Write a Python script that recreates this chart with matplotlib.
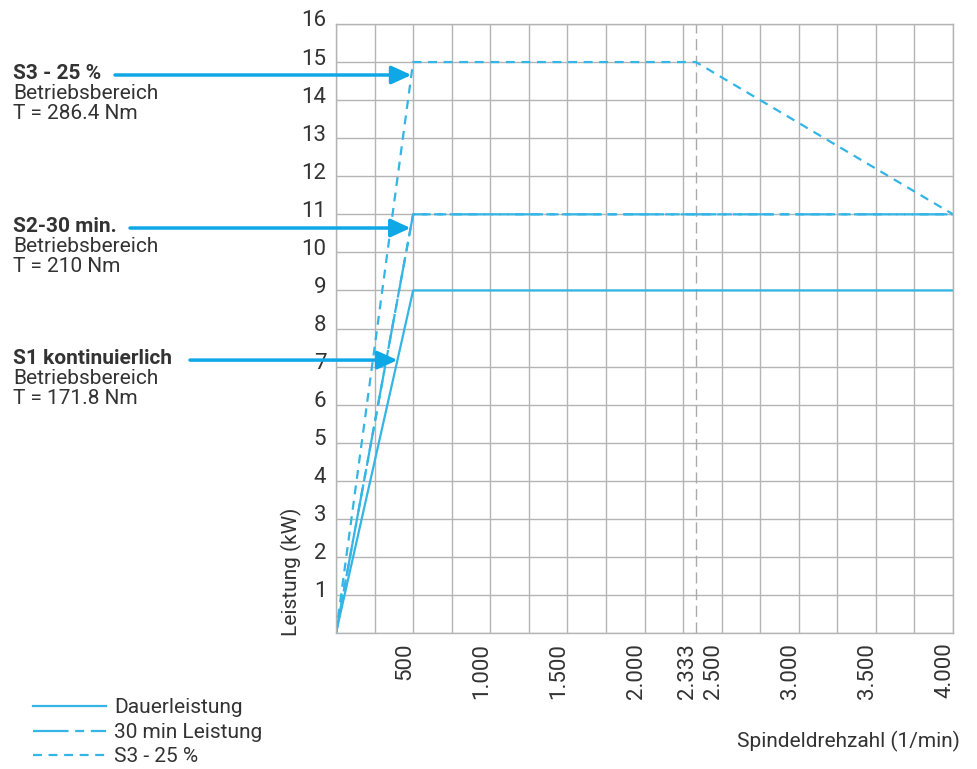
import matplotlib
matplotlib.use("Agg")
import matplotlib.pyplot as plt
from matplotlib.lines import Line2D
from matplotlib.transforms import ScaledTranslation

plt.rcParams["font.family"] = ["Roboto", "DejaVu Sans"]

# data
dauer_x = [0, 500, 4000]
dauer_y = [0, 9, 9]
min30_x = [0, 500, 4000]
min30_y = [0, 11, 11]
s3_x = [0, 500, 2333, 4000, 500, 0]
s3_y = [0, 15, 15, 11, 11, 0]

x_ticks = [500, 1000, 1500, 2000, 2333, 2500, 3000, 3500, 4000]
x_labels = ["500", "1.000", "1.500", "2.000", "2.333", "2.500", "3.000", "3.500", "4.000"]
y_ticks = list(range(1, 17))

# annotations: title, sub text, arrow level (kW), ramp top it points at, tail x (px)
notes = [
    ("S3 - 25 %", "Betriebsbereich\nT = 286.4 Nm", 14.66, 15, 115),
    ("S2-30 min.", "Betriebsbereich\nT = 210 Nm", 10.64, 11, 130),
    ("S1 kontinuierlich", "Betriebsbereich\nT = 171.8 Nm", 7.17, 9, 190),
]

line_c = "#33b5e5"
arrow_c = "#0ea8e6"
text_c = "#333333"
grid_c = "#b4b4b4"
fs = 15

fig = plt.figure(figsize=(9.77, 7.69), dpi=100)
ax = fig.add_axes([336 / 977, 1 - 633 / 769, (953 - 336) / 977, (633 - 24) / 769])

ax.set_xlim(0, 4000)
ax.set_ylim(0, 16)
ax.xaxis.remove_overlapping_locs = False
ax.yaxis.remove_overlapping_locs = False

ax.set_xticks(x_ticks)
ax.set_xticklabels(x_labels, rotation=90, va="top", ha="center")
ax.set_xticks(range(0, 4001, 250), minor=True)
ax.set_yticks(y_ticks)
ax.set_yticks(range(0, 17), minor=True)
ax.tick_params(which="both", length=0, labelsize=fs + 1, labelcolor=text_c)
ax.tick_params(axis="x", pad=7)
ax.tick_params(axis="y", pad=7)
ax.grid(which="minor", color=grid_c, lw=1)
ax.grid(which="major", visible=False)
for s in ax.spines.values():
    s.set_color(grid_c)
    s.set_linewidth(1)

for lab in ax.get_yticklabels():
    lab.set_transform(lab.get_transform() + ScaledTranslation(0, 4 / 72, fig.dpi_scale_trans))
for lab in ax.get_xticklabels():
    lab.set_transform(lab.get_transform() + ScaledTranslation(-6 / 72, 0, fig.dpi_scale_trans))

ax.axvline(2333, color="#aaaaaa", lw=1, ls=(0, (8, 4)))

ax.plot(dauer_x, dauer_y, color=line_c, lw=1.6)
ax.plot(min30_x, min30_y, color=line_c, lw=1.6, ls=(0, (16, 3, 4, 3)))
ax.plot(s3_x, s3_y, color=line_c, lw=1.6, ls=(0, (4, 3)))

# left labels with arrows
for title, sub, level, top, tail_px in notes:
    tip_x = 500 * level / top
    ypix = ax.transData.transform((0, level))[1]
    ax.annotate("", xy=(tip_x, level), xycoords="data",
                xytext=(tail_px, ypix), textcoords="figure pixels",
                arrowprops=dict(arrowstyle="-|>,head_length=1.2,head_width=0.55",
                                color=arrow_c, lw=2.5, shrinkA=0, shrinkB=0),
                annotation_clip=False)
    fig.text(13 / 977, (ypix + 2) / 769, title, fontsize=fs, fontweight="bold",
             color=text_c, va="center", ha="left")
    fig.text(13 / 977, (ypix - 9) / 769, sub, fontsize=fs, color=text_c,
             va="top", ha="left", linespacing=1.05)

fig.text(291 / 977, 1 - 636 / 769, "Leistung (kW)", rotation=90, fontsize=fs,
         color=text_c, va="bottom", ha="center")
fig.text(960 / 977, 1 - 741 / 769, "Spindeldrehzahl (1/min)", fontsize=fs,
         color=text_c, va="center", ha="right")

handles = [
    Line2D([], [], color=line_c, lw=1.6),
    Line2D([], [], color=line_c, lw=1.6, ls=(0, (16, 3, 4, 3))),
    Line2D([], [], color=line_c, lw=1.6, ls=(0, (4, 3))),
]
fig.legend(handles, ["Dauerleistung", "30 min Leistung", "S3 - 25 %"],
           loc="lower left", bbox_to_anchor=(14 / 977, -16 / 769), frameon=False,
           fontsize=fs, handlelength=3.5, handletextpad=0.4, labelspacing=0.26,
           labelcolor=text_c)

fig.savefig("out.png", dpi=100)
